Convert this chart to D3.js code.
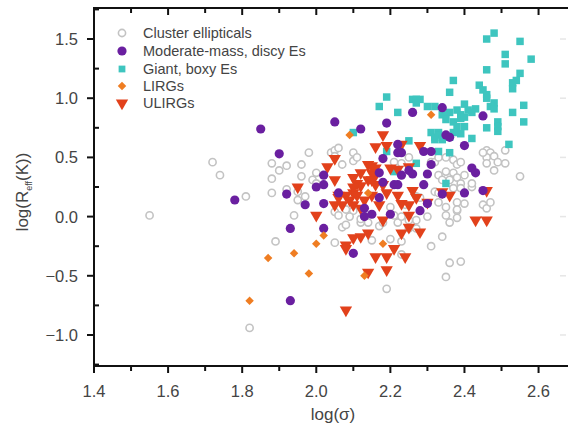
<!DOCTYPE html>
<html><head><meta charset="utf-8">
<script src="https://cdn.jsdelivr.net/npm/d3@7/dist/d3.min.js"></script>
<style>
html,body{margin:0;padding:0;background:#fff;}
svg{display:block;font-family:"Liberation Sans",Arial,sans-serif;}
</style></head>
<body><svg id="chart" width="568" height="427"></svg>
<script>
// ---- data: [log(sigma), log(Reff(K))] ----
const seriesNames = ["Cluster ellipticals","Moderate-mass, discy Es","Giant, boxy Es","LIRGs","ULIRGs"];
const xTicks = [1.4,1.6,1.8,2.0,2.2,2.4,2.6];
const yTicks = [-1.0,-0.5,0.0,0.5,1.0,1.5];

const clusterEllipticals = [
 [1.72,0.46],[1.74,0.35],[1.81,0.17],[1.55,0.01],[1.82,-0.94],
 [1.88,0.45],[1.90,0.39],[1.92,0.43],[1.88,0.32],[1.88,0.20],[1.96,0.44],[1.96,0.34],[1.98,0.54],
 [2.04,0.54],[2.05,0.56],[2.06,0.58],[2.05,0.51],[2.10,0.54],[2.10,0.47],[2.11,0.50],[2.07,0.44],
 [2.00,0.37],[1.99,0.31],[2.00,0.28],[1.92,0.23],[1.95,0.21],[1.95,0.14],[1.97,0.17],[1.94,0.01],
 [2.05,0.04],[2.08,0.06],[2.10,0.05],[2.06,0.01],[2.09,0.00],[2.07,-0.09],[2.08,-0.07],[1.89,-0.21],[2.05,-0.22],
 [2.12,-0.05],[2.14,-0.05],[2.17,-0.08],[2.18,-0.05],[2.22,-0.05],[2.21,0.01],[2.27,-0.03],[2.30,0.00],[2.24,0.10],
 [2.20,-0.19],[2.15,-0.20],[2.23,-0.21],[2.23,-0.32],[2.31,-0.25],[2.34,-0.17],[2.36,-0.39],[2.39,-0.38],[2.35,-0.51],[2.19,-0.61],
 [2.38,0.05],[2.40,0.11],[2.45,0.10],[2.46,0.07],[2.35,0.01],[2.36,-0.05],[2.42,0.25],[2.42,0.28],
 [2.51,0.56],[2.51,0.45],[2.55,0.34],
 [2.46,0.56],[2.47,0.54],[2.46,0.50],[2.48,0.51],[2.46,0.45],[2.48,0.39],[2.49,0.46],[2.45,0.54],
 [2.21,0.46],[2.23,0.45],[2.25,0.50],[2.31,0.46],[2.32,0.46],[2.33,0.50],[2.35,0.50],[2.37,0.48],[2.38,0.44],[2.39,0.46],
 [2.33,0.35],[2.35,0.38],[2.37,0.37],[2.34,0.31],[2.36,0.31],[2.38,0.33],[2.40,0.35],[2.39,0.28],[2.37,0.24],[2.39,0.24],
 [2.27,0.17],[2.28,0.16],[2.32,0.21],[2.33,0.20],[2.38,0.12],[2.38,0.06],[2.47,0.12],
 [2.20,0.08],[2.23,0.00],[2.25,-0.03],[2.33,0.12],[2.35,0.08],[2.38,-0.01],[2.27,-0.10],[2.25,-0.10],[2.12,-0.02]
];
const moderateMassDiscyEs = [
 [1.85,0.74],[2.05,0.80],[2.12,0.74],[2.19,0.79],[2.26,0.88],[2.34,0.92],[2.45,0.85],
 [1.90,0.53],[1.78,0.14],[2.00,0.25],[2.02,0.27],[2.02,0.35],[1.92,0.19],[1.97,0.10],[2.02,0.11],
 [1.93,-0.10],[2.02,-0.10],[2.06,0.20],[2.13,0.00],[2.15,0.02],[2.13,0.07],
 [2.35,0.69],[2.36,0.67],[2.40,0.60],[2.22,0.61],[2.22,0.54],[2.23,0.54],[2.18,0.49],[2.29,0.55],[2.31,0.55],
 [2.25,0.39],[2.26,0.36],[2.31,0.44],[2.30,0.36],[2.42,0.41],[2.43,0.37],[2.17,0.37],[2.18,0.29],[2.23,0.35],
 [2.29,0.27],[2.40,0.20],[2.45,0.22],[2.10,-0.31],[1.93,-0.71],[2.20,0.02],[2.28,0.05],[2.34,0.19],[2.30,0.11],
 [2.17,0.16],[2.21,0.27],[2.22,0.27]
];
const giantBoxyEs = [
 [2.46,1.50],[2.48,1.55],[2.55,1.48],[2.51,1.37],[2.51,1.29],[2.58,1.33],[2.46,1.24],[2.55,1.21],
 [2.54,1.15],[2.53,1.13],[2.53,1.08],[2.37,1.15],[2.36,1.05],[2.44,1.11],[2.45,1.07],[2.46,1.03],
 [2.46,1.00],[2.48,0.96],[2.47,0.93],[2.48,0.91],[2.19,1.01],[2.17,0.93],[2.22,0.88],[2.26,0.99],
 [2.27,0.99],[2.28,0.99],[2.27,0.96],[2.30,0.93],[2.32,0.93],[2.40,0.95],[2.41,0.90],[2.43,0.91],
 [2.42,0.88],[2.56,0.94],[2.53,0.88],[2.56,0.80],[2.46,0.75],[2.49,0.80],[2.49,0.76],[2.49,0.72],
 [2.42,0.66],[2.25,0.64],[2.52,0.61],[2.33,0.55],[2.36,0.54],[2.27,0.45],[2.19,0.55],[2.35,0.28],
 [2.10,0.71],[2.38,0.90],[2.39,0.86],[2.36,0.88],[2.34,0.86],[2.35,0.82],[2.37,0.80],[2.39,0.83],
 [2.40,0.84],[2.40,0.76],[2.38,0.76],[2.39,0.70],[2.31,0.71],[2.33,0.71],[2.32,0.67],[2.33,0.69],
 [2.32,0.65],[2.34,0.65],[2.36,0.67],[2.37,0.71],[2.21,0.38]
];
const lirgs = [
 [2.09,0.69],[2.31,0.86],[2.02,-0.16],[2.00,-0.23],[1.94,-0.31],[2.18,-0.23],[1.98,-0.48],
 [2.13,-0.50],[1.87,-0.35],[1.82,-0.71],[2.14,0.20]
];
const ulirgs = [
 [2.03,0.42],[2.05,0.49],[2.05,0.31],[1.95,0.25],[2.00,0.01],[2.06,0.18],[2.08,0.18],[2.09,0.14],
 [2.07,0.10],[2.10,0.33],[2.12,0.37],[2.05,0.10],[2.10,-0.18],[2.12,-0.17],[2.14,-0.14],[2.08,-0.24],
 [2.18,0.69],[2.16,0.59],[2.19,0.60],[2.28,0.60],[2.23,0.61],[2.14,0.44],[2.15,0.43],[2.16,0.41],
 [2.25,0.42],[2.20,0.41],[2.22,0.40],[2.46,0.22],[2.34,0.21],[2.10,0.20],[2.19,0.20],[2.22,0.18],
 [2.15,0.37],[2.16,0.35],[2.15,0.31],[2.14,0.31],[2.11,0.28],[2.12,0.26],[2.16,0.27],[2.18,0.27],
 [2.17,0.10],[2.18,-0.03],[2.23,0.11],[2.25,0.01],[2.25,-0.09],[2.23,-0.14],[2.28,-0.13],[2.27,0.16],
 [2.26,0.22],[2.30,0.12],[2.36,0.18],[2.43,-0.03],[2.46,-0.03],[2.08,-0.27],[2.21,-0.27],[2.16,-0.34],
 [2.19,-0.34],[2.24,-0.34],[2.19,-0.45],[2.14,-0.47],[2.08,-0.79],[2.10,0.10],[2.12,0.07],[2.06,0.16],
 [2.10,0.25],[2.11,0.18],[2.13,0.14],[2.15,0.18],[2.25,0.10]
];

// ---- layout ----
const svg = d3.select("#chart");
const W = 568, H = 427;
const x = d3.scaleLinear().domain([1.4, 2.7]).range([94, 575.6]);
const y = d3.scaleLinear().domain([-1.262, 1.762]).range([366, 8]);
const pLeft = x.range()[0], pTop = y.range()[1], pBottom = y.range()[0];

const colors = { grey:"#c3c3c3", purple:"#6a1fa0", teal:"#3ec5bf", orange:"#ef7d22", red:"#e2411b" };
const txt = "#444";

// faint ghost marks at right edge
const ghost = svg.append("g");
yTicks.forEach(v => ghost.append("line").attr("x1",560).attr("x2",566)
  .attr("y1",y(v)).attr("y2",y(v)).attr("stroke","#e6e6e6").attr("stroke-width",1.5));

// ---- points ----
const g = svg.append("g");
g.selectAll("circle.grey").data(clusterEllipticals).join("circle")
  .attr("cx",d=>x(d[0])).attr("cy",d=>y(d[1])).attr("r",3.6)
  .attr("fill","#fff").attr("stroke",colors.grey).attr("stroke-width",1.6);

const sq = d3.symbol().type(d3.symbolSquare).size(56);
g.selectAll("path.teal").data(giantBoxyEs).join("path")
  .attr("d",sq).attr("transform",d=>`translate(${x(d[0])},${y(d[1])})`).attr("fill",colors.teal);

const tri = d3.symbol().type(d3.symbolTriangle).size(66);
g.selectAll("path.red").data(ulirgs).join("path")
  .attr("d",tri).attr("transform",d=>`translate(${x(d[0])},${y(d[1])}) rotate(180)`).attr("fill",colors.red);

g.selectAll("circle.purple").data(moderateMassDiscyEs).join("circle")
  .attr("cx",d=>x(d[0])).attr("cy",d=>y(d[1])).attr("r",4.6).attr("fill",colors.purple);

const dia = d3.symbol().type(d3.symbolSquare).size(36);
g.selectAll("path.orange").data(lirgs).join("path")
  .attr("d",dia).attr("transform",d=>`translate(${x(d[0])},${y(d[1])}) rotate(45)`).attr("fill",colors.orange);

// ---- frame & axes ----
const ax = svg.append("g").attr("stroke","#111").attr("stroke-width",2).attr("fill","none");
ax.append("line").attr("x1",pLeft).attr("x2",W+5).attr("y1",pTop).attr("y2",pTop);
ax.append("line").attr("x1",pLeft).attr("x2",W+5).attr("y1",pBottom).attr("y2",pBottom);
ax.append("line").attr("x1",pLeft).attr("x2",pLeft).attr("y1",pTop-1).attr("y2",pBottom+7);

const xMinor = d3.range(1.4, 2.71, 0.1).map(v=>+v.toFixed(2));
xMinor.forEach(v => {
  const major = xTicks.some(t=>Math.abs(t-v)<1e-6);
  const len = major ? 7 : 5;
  ax.append("line").attr("x1",x(v)).attr("x2",x(v)).attr("y1",pBottom).attr("y2",pBottom+len);
  ax.append("line").attr("x1",x(v)).attr("x2",x(v)).attr("y1",pTop).attr("y2",pTop+len);
});
const yMinor = d3.range(-1.25, 1.76, 0.25).map(v=>+v.toFixed(2));
yMinor.forEach(v => {
  const major = yTicks.some(t=>Math.abs(t-v)<1e-6);
  if (major) ax.append("line").attr("x1",pLeft-7).attr("x2",pLeft).attr("y1",y(v)).attr("y2",y(v));
  else ax.append("line").attr("x1",pLeft).attr("x2",pLeft+5).attr("y1",y(v)).attr("y2",y(v));
});

// tick labels
const fmt = v => (v<0 ? "\u2212" : "") + Math.abs(v).toFixed(1);
svg.append("g").selectAll("text").data(xTicks).join("text")
  .attr("x",d=>x(d)).attr("y",397).attr("text-anchor","middle")
  .attr("font-size",16.5).attr("fill",txt).text(d=>d.toFixed(1));
svg.append("g").selectAll("text").data(yTicks).join("text")
  .attr("x",78).attr("y",d=>y(d)+6).attr("text-anchor","end")
  .attr("font-size",16.5).attr("fill",txt).text(fmt);

// axis titles
svg.append("text").attr("x",333).attr("y",420).attr("text-anchor","middle")
  .attr("font-size",17).attr("fill",txt).text("log(\u03C3)");
const yt = svg.append("text").attr("transform","translate(28,192) rotate(-90)")
  .attr("text-anchor","middle").attr("font-size",17).attr("fill",txt);
yt.append("tspan").text("log(R");
yt.append("tspan").attr("font-size",9).attr("dy",4).text("eff");
yt.append("tspan").attr("dy",-4).text("(K))");

// ---- legend ----
const leg = svg.append("g");
const rows = [33, 51, 69, 86, 103];
const lx = 122;
leg.append("circle").attr("cx",lx).attr("cy",rows[0]).attr("r",3.6).attr("fill","#fff")
  .attr("stroke",colors.grey).attr("stroke-width",1.6);
leg.append("circle").attr("cx",lx).attr("cy",rows[1]).attr("r",4.6).attr("fill",colors.purple);
leg.append("path").attr("d",d3.symbol().type(d3.symbolSquare).size(46)())
  .attr("transform",`translate(${lx},${rows[2]})`).attr("fill",colors.teal);
leg.append("path").attr("d",dia()).attr("transform",`translate(${lx},${rows[3]}) rotate(45)`).attr("fill",colors.orange);
leg.append("path").attr("d",tri()).attr("transform",`translate(${lx},${rows[4]}) rotate(180)`).attr("fill",colors.red);
leg.selectAll("text").data(seriesNames).join("text")
  .attr("x",143).attr("y",(d,i)=>rows[i]+5).attr("font-size",14.5).attr("fill",txt).text(d=>d);
</script></body></html>
